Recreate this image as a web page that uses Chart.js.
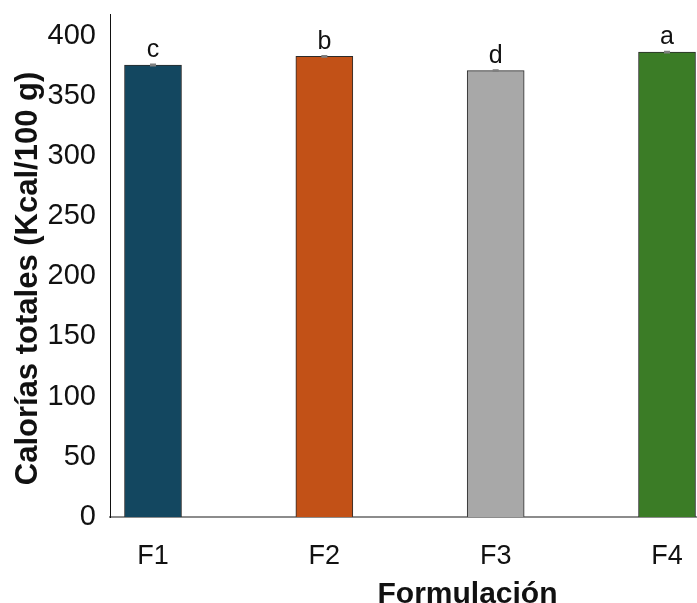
<!DOCTYPE html>
<html>
<head>
<meta charset="utf-8">
<script src="https://cdn.jsdelivr.net/npm/chart.js@4"></script>
<style>
  html, body { margin: 0; padding: 0; background: #fff; overflow: hidden; }
  #wrap { width: 697px; height: 603px; }
</style>
</head>
<body>
<div id="wrap"><canvas id="chart" width="697" height="603"></canvas></div>
<script>
// data
const formulaciones = ["F1", "F2", "F3", "F4"];
const calorias = [375.6, 382.8, 370.9, 386.4];
const errores = [0.6, 0.5, 0.5, 0.5];
const letras = ["c", "b", "d", "a"];
const barColors = ["#134760", "#C25117", "#A8A8A8", "#3B7C26"];
const yTicks = [0, 50, 100, 150, 200, 250, 300, 350, 400];

const FONT = "'Liberation Sans', Arial, sans-serif";

// error bars, significance letters and axis titles
const extras = {
  id: "extras",
  afterDatasetsDraw(chart) {
    const { ctx, chartArea } = chart;
    const x = chart.scales.x;
    const y = chart.scales.y;
    ctx.save();
    calorias.forEach((v, i) => {
      const px = x.getPixelForValue(i);
      const top = y.getPixelForValue(v + errores[i]);
      const bot = y.getPixelForValue(v - errores[i]);
      ctx.strokeStyle = "#7f7f7f";
      ctx.lineWidth = 1.5;
      ctx.beginPath();
      ctx.moveTo(px, top); ctx.lineTo(px, bot);
      ctx.moveTo(px - 3, top); ctx.lineTo(px + 3, top);
      ctx.moveTo(px - 3, bot); ctx.lineTo(px + 3, bot);
      ctx.stroke();
      ctx.fillStyle = "#111";
      ctx.font = "25px " + FONT;
      ctx.textAlign = "center";
      ctx.textBaseline = "alphabetic";
      ctx.fillText(letras[i], px, top - 7);
    });
    // x title
    ctx.fillStyle = "#111";
    ctx.font = "bold 30px " + FONT;
    ctx.textAlign = "center";
    ctx.textBaseline = "alphabetic";
    ctx.fillText("Formulación", (chartArea.left + chartArea.right) / 2 + 64, 603);
    // y title
    ctx.translate(37, (chartArea.top + chartArea.bottom) / 2 + 13);
    ctx.rotate(-Math.PI / 2);
    ctx.font = "bold 31px " + FONT;
    ctx.fillText("Calorías totales (Kcal/100 g)", 0, 0);
    ctx.restore();
  }
};

new Chart(document.getElementById("chart"), {
  type: "bar",
  data: {
    datasets: [{
      data: calorias.map((v, i) => ({ x: i, y: v })),
      backgroundColor: barColors,
      borderColor: "#2b2b2b",
      borderWidth: 1,
      barThickness: 57
    }]
  },
  options: {
    responsive: false,
    animation: false,
    layout: { padding: { top: 14, right: 0, left: 0, bottom: 0 } },
    plugins: { legend: { display: false }, tooltip: { enabled: false } },
    scales: {
      x: {
        type: "linear",
        offset: false,
        min: -0.251,
        max: 3.175,
        grid: { display: false, drawTicks: false },
        border: { display: true, color: "#8c8c8c", width: 2 },
        afterBuildTicks: (s) => { s.ticks = formulaciones.map((c, i) => ({ value: i })); },
        afterFit: (s) => { s.height = 86; s.paddingLeft = 0; s.paddingRight = 0; },
        ticks: {
          padding: 23,
          color: "#111",
          font: { family: FONT, size: 27 },
          callback: (v) => formulaciones[v]
        }
      },
      y: {
        min: 0,
        max: 418,
        grid: { display: false, drawTicks: false },
        border: { display: true, color: "#111", width: 1 },
        afterBuildTicks: (s) => { s.ticks = yTicks.map(v => ({ value: v })); },
        afterFit: (s) => { s.width = 110; s.paddingTop = 0; s.paddingBottom = 0; },
        ticks: {
          padding: 14,
          color: "#111",
          font: { family: FONT, size: 29 }
        }
      }
    }
  },
  plugins: [extras]
});
</script>
</body>
</html>
